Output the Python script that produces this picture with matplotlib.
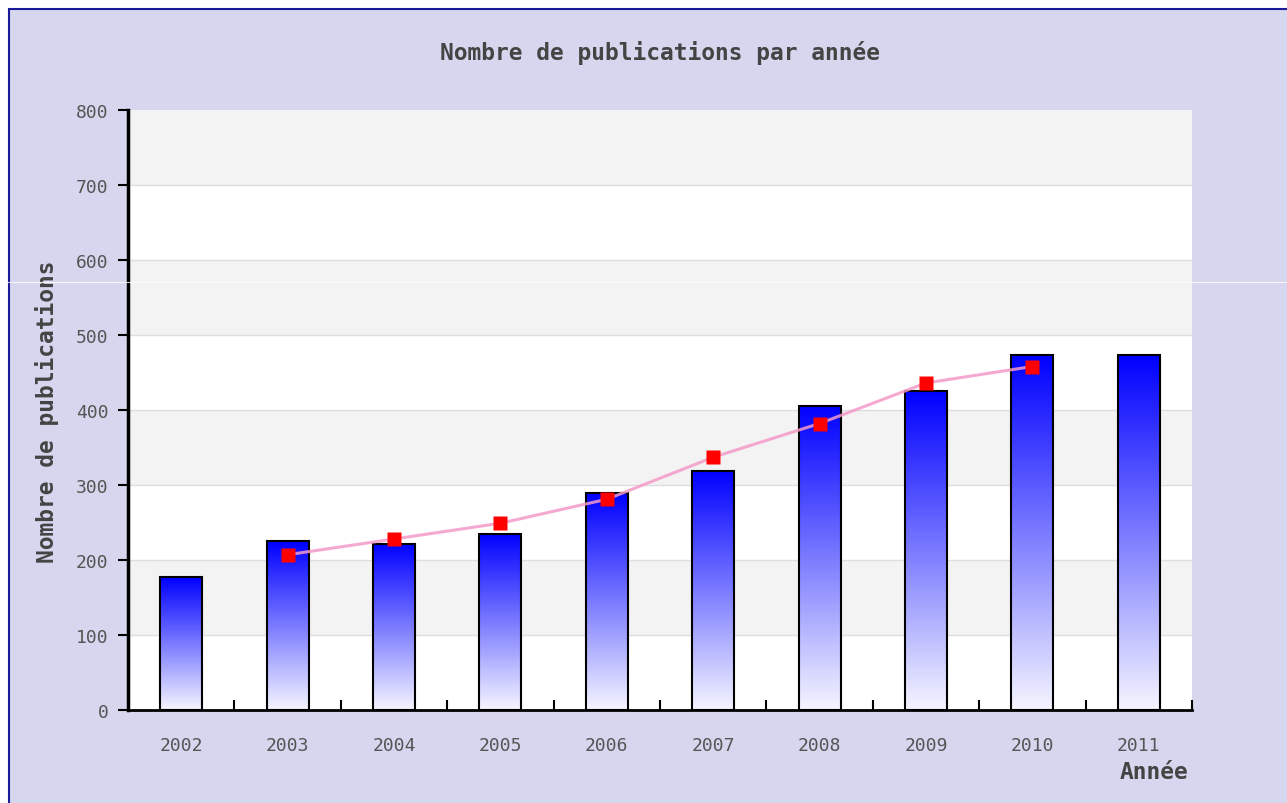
import numpy as np
import matplotlib.pyplot as plt
from matplotlib.patches import Rectangle
from matplotlib.lines import Line2D

years = ['2002', '2003', '2004', '2005', '2006', '2007', '2008', '2009', '2010', '2011']
publications = [177, 225, 222, 235, 289, 319, 406, 425, 473, 473]
# moyenne mobile (2003 -> 2010)
trend_years = ['2003', '2004', '2005', '2006', '2007', '2008', '2009', '2010']
trend = [207, 228, 249, 281, 337, 382, 436, 458]

W, H = 1287, 804
fig = plt.figure(figsize=(W / 100, H / 100), dpi=100, facecolor='white')

# cadre lavande avec bord bleu
fig.patches.append(Rectangle((9 / W, -0.2), 1.2, 1.2 - 10 / H, transform=fig.transFigure,
                             facecolor='#d6d6ee', edgecolor='#1a1a9a', linewidth=1.5,
                             zorder=-5))

ax = fig.add_axes([128 / W, 1 - 711 / H, (1192 - 128) / W, (711 - 111) / H])
ax.set_facecolor('white')

# bandes alternées
for i, y0 in enumerate(range(0, 800, 100)):
    if i % 2 == 1:
        ax.axhspan(y0, y0 + 100, color='#f3f3f3', zorder=0, lw=0)
for y0 in range(100, 800, 100):
    ax.axhline(y0, color='#dedede', lw=1, zorder=0.5)

# barres en dégradé
grad = np.linspace(0, 1, 256).reshape(-1, 1)
top = np.array([0, 0, 255]) / 255
bottom = np.array([245, 245, 255]) / 255
img = (top[None, None, :] * (1 - grad[..., None]) + bottom[None, None, :] * grad[..., None])
bw = 0.395
x = np.arange(len(years))
for xi, v in zip(x, publications):
    ax.imshow(img, extent=(xi - bw / 2, xi + bw / 2, 0, v), aspect='auto',
              origin='upper', zorder=2, interpolation='bilinear')
    ax.add_patch(Rectangle((xi - bw / 2, 0), bw, v, fill=False, edgecolor='black',
                           linewidth=1.5, zorder=3))
ax.set_xlim(-0.5, len(years) - 0.5)
ax.set_ylim(0, 800)

# tendance
tx = [years.index(y) for y in trend_years]
ax.plot(tx, trend, color='#f59ac8', lw=2.2, alpha=0.85, zorder=4)
ax.plot(tx, trend, ls='none', marker='s', ms=9.5, color='#ff0000', mec='none', zorder=5)

# axes
for s in ['top', 'right']:
    ax.spines[s].set_visible(False)
ax.spines['left'].set_linewidth(2.5)
ax.spines['bottom'].set_linewidth(2)
ax.set_yticks(range(0, 801, 100))
ax.tick_params(axis='y', direction='out', length=7, width=1.5, pad=7,
               labelsize=13, labelcolor='#555555')
ax.set_xticks(x)
ax.set_xticklabels(years)
ax.tick_params(axis='x', which='major', length=0, pad=19, labelsize=13, labelcolor='#555555')
ax.set_xticks(np.arange(0.5, len(years), 1), minor=True)
ax.tick_params(axis='x', which='minor', direction='in', length=7, width=1.5)
for lab in ax.get_xticklabels() + ax.get_yticklabels():
    lab.set_family('DejaVu Sans Mono')

fig.text(660 / W, 1 - 53 / H, 'Nombre de publications par année', ha='center', va='center',
         family='DejaVu Sans Mono', weight='bold', fontsize=16.5, color='#444444')
fig.text(47 / W, 1 - 412 / H, 'Nombre de publications', ha='center', va='center',
         rotation=90, family='DejaVu Sans Mono', weight='bold', fontsize=16.5, color='#444444')
fig.text(1188 / W, 1 - 773 / H, 'Année', ha='right', va='center',
         family='DejaVu Sans Mono', weight='bold', fontsize=16.5, color='#444444')

# fine ligne blanche (artefact de la capture)
fig.lines.append(Line2D([0, 1], [1 - 283 / H] * 2, transform=fig.transFigure,
                        color='white', lw=0.8, alpha=0.8, zorder=10))

fig.savefig('out.png', dpi=100, facecolor=fig.get_facecolor())
